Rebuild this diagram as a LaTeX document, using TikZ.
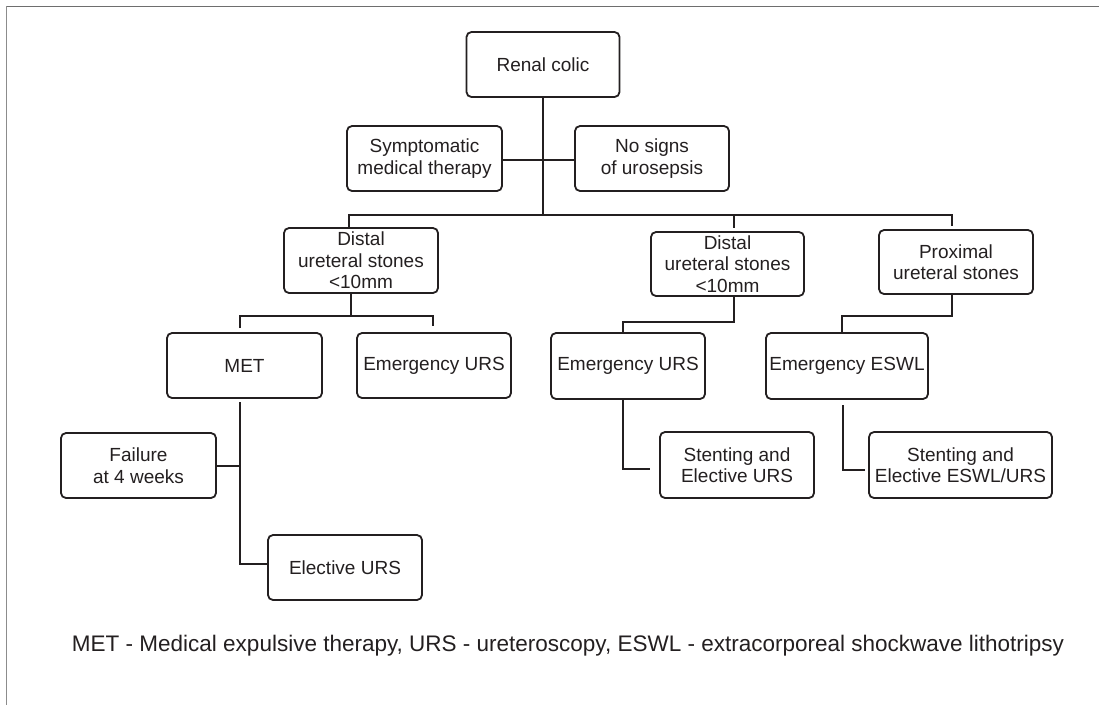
\documentclass[tikz,border=0pt]{standalone}
\usepackage{fontspec}
\setmainfont{Liberation Sans}
\definecolor{ink}{HTML}{231F20}
\definecolor{frameA}{HTML}{6E6E6E}
\definecolor{frameB}{HTML}{8C8C8C}
\tikzset{
  box/.style={draw=ink, line width=1.8pt, rounded corners=5pt, align=center,
    inner sep=0pt, text=ink, minimum width=154pt, minimum height=65pt,
    font=\fontsize{19}{21.5}\selectfont},
  link/.style={draw=ink, line width=1.8pt},
}
\begin{document}
\begin{tikzpicture}[x=1pt,y=-1pt]
\useasboundingbox (0,0) rectangle (1099,705);
% frame (top and left only)
\draw[frameA, line width=1.8pt] (6,6.5) -- (1099,6.5);
\draw[frameB, line width=1.8pt] (6.5,6) -- (6.5,705);

% nodes
\node[box, minimum width=153pt] (renal) at (543,64.5) {Renal colic};
\node[box, minimum width=155pt] (symp) at (424.5,158.5) {Symptomatic\\medical therapy};
\node[box] (nosigns) at (652,158.5) {No signs\\of urosepsis};
\node[box] (dist1) at (361,260.5) {Distal\\ureteral stones\\<10mm};
\node[box, minimum width=153pt, minimum height=64pt] (dist2) at (727.5,264) {Distal\\ureteral stones\\<10mm};
\node[box, minimum height=64pt] (prox) at (956,262) {Proximal\\ureteral stones};
\node[box, minimum width=155pt] (met) at (244.5,365.5) {MET};
\node[box] (emurs1) at (434,365.5) {Emergency URS};
\node[box, minimum height=66pt] (emurs2) at (628,366) {Emergency URS};
\node[box, minimum width=162pt, minimum height=66pt] (eswl) at (847,366) {Emergency ESWL};
\node[box, minimum height=66pt] (stenturs) at (737,465) {Stenting and\\Elective URS};
\node[box, minimum width=183pt, minimum height=66pt] (stenteswl) at (960.5,465) {Stenting and\\Elective ESWL/URS};
\node[box, minimum width=155pt] (failure) at (138.5,465.5) {Failure\\at 4 weeks};
\node[box] (elective) at (345,567.5) {Elective URS};

% junction coordinates
\coordinate (busA) at (349,215);
\coordinate (busB) at (952,215);
\coordinate (busM) at (734,215);
\coordinate (d1a) at (351,316);
\coordinate (d1l) at (240,316);
\coordinate (d1r) at (433,316);
\coordinate (d2a) at (734,322);
\coordinate (d2l) at (623,322);
\coordinate (pra) at (952,316);
\coordinate (prl) at (842,316);
\coordinate (metl) at (240,402);
\coordinate (metf) at (240,466);
\coordinate (mete) at (240,564);
\coordinate (e2a) at (623,399);
\coordinate (e2b) at (623,469);
\coordinate (e2c) at (650,469);
\coordinate (esa) at (843,405);
\coordinate (esb) at (843,470);
\coordinate (esc) at (865,470);

% connectors
\draw[link] (renal.south) -- (renal.south |- busA);
\draw[link] (symp.east |- 0,160) -- (nosigns.west |- 0,160);
\draw[link] (busA |- dist1.north) -- (busA) -- (busB) -- ([yshift=3pt]busB |- prox.north);
\draw[link] (busM) -- ([yshift=3pt]busM |- dist2.north);

\draw[link] (d1a |- dist1.south) -- (d1a);
\draw[link] ([yshift=4pt]d1l |- met.north) -- (d1l) -- (d1r) -- ([yshift=6pt]d1r |- emurs1.north);

\draw[link] (d2a |- dist2.south) -- (d2a) -- (d2l) -- (d2l |- emurs2.north);
\draw[link] (pra |- prox.south) -- (pra) -- (prl) -- (prl |- eswl.north);

\draw[link] (metl) -- (mete) -- (mete -| elective.west);
\draw[link] (failure.east |- metf) -- (metf);

\draw[link] (e2a |- emurs2.south) -- (e2b) -- (e2c);
\draw[link] (esa) -- (esb) -- (esc);

% caption
\node[anchor=base, text=ink, inner sep=0pt, font=\fontsize{22.5}{26}\selectfont] (caption) at (568,651)
  {MET - Medical expulsive therapy, URS - ureteroscopy, ESWL - extracorporeal shockwave lithotripsy};
\end{tikzpicture}
\end{document}
